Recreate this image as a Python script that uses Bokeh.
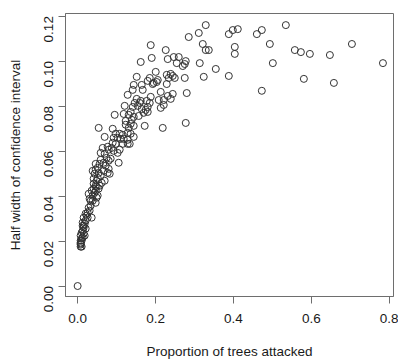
import math
from bokeh.plotting import figure
from bokeh.models import FixedTicker, PrintfTickFormatter, Range1d
from bokeh.embed import file_html
from bokeh.resources import INLINE

# Proportion of trees attacked
prop_attacked = [
    .329, .3111, .2853, .3213, .329, .3368, .3136, .3239, .3548, .3882,
    .3985, .4113, .3882, .4602, .473, .5347, .4936, .4036, .4036, .473,
    .5013, .5578, .5733, .5964, .6478, .7044, .7841, .581, .6581,
    .1877, .2262, .162, .1902, .2314, .2468, .2596, .2545, .2776, .2751,
    .2699, .2005, .1517, .1851, .18, .2057, .2031, .1954, .2288, .2391,
    .2442, .2339, .2494, .2751, .144, .1645, .1414, .1671, .1928, .2288,
    .2134, .2802, .2442, .2314, .1285, .1517, .162, .1465, .1594, .1877,
    .1851, .1774, .2082, .2211, .2391, .2211, .2134, .1208, .1542, .1645,
    .18, .1748, .0951, .1183, .1311, .144, .1568, .1697, .18, .1388,
    .054, .09, .1234, .1311, .144, .1722, .2185, .2776, .1414, .1362,
    .1234, .1362, .0694, .0977, .108, .1157, .1285, .1362, .144, .0925,
    .1028, .1105, .1183, .1285, .09, .0977, .1157, .1285, .1337, .0643,
    .0771, .0874, .108, .0797, .0925, .1028, .0591, .0694, .0746, .0848,
    .0797, .0591, .0668, .0566, .1054, .0463, .0514, .0463, .072, .0797,
    .0668, .0771, .0823, .0386, .0437, .054, .0591, .0514, .0694, .0411,
    .0488, .0411, .0463, .0411, .0283, .0514, .0463, .0488, .0386, .0463,
    .0334, .0283, .0308, .0257, .0206, .036, .0154, .0257, .0206, .0129,
    .0154, .0206, .0154, .0129, .0154, .0077, .018, .0129, .0077, .0077,
    .0077, .0103, .0077, 0.0,
    .0437, .0386, .054, .0334, .0231, .018, .0129, .0103, .0103, .0077,
    .0103, .0566, .0617, .0488, .036, .0308,
]

# Half width of confidence interval
half_width = [
    .116, .1125, .1107, .1076, .1049, .1049, .0991, .093, .0965, .112,
    .1138, .1142, .0934, .112, .1138, .116, .1076, .1063, .1032, .0868,
    .0991, .1049, .104, .1032, .1027, .1076, .0991, .0921, .0903,
    .1071, .1049, .0996, .1014, .1009, .1018, .1018, .0991, .1, .0987,
    .0978, .0952, .093, .0925, .0912, .0916, .0907, .0903, .0939, .0943,
    .0934, .0925, .0925, .0925, .0894, .0894, .0872, .0872, .0898, .0898,
    .0863, .0858, .0854, .0845, .085, .0832, .0823, .0814, .0814, .0841,
    .0814, .0823, .0827, .0827, .0832, .0805, .0792, .0801, .0801, .0787,
    .0796, .0783, .0761, .0765, .0761, .0752, .0756, .077, .0774, .0739,
    .0703, .0699, .0717, .0703, .0712, .0712, .0703, .0725, .0796, .0774,
    .0734, .0721, .0663, .0677, .0677, .0672, .0681, .0677, .0663, .0659,
    .0659, .0654, .0654, .065, .0637, .0632, .0632, .0632, .0632, .0614,
    .0619, .0614, .0606, .0606, .0601, .0592, .0592, .0588, .057, .0566,
    .0557, .0561, .0548, .0543, .0548, .0543, .0526, .0517, .0535, .0521,
    .0512, .0503, .0499, .0512, .0499, .0503, .049, .0481, .0468, .0477,
    .0468, .0455, .0446, .0433, .041, .0402, .0424, .0393, .0379, .037,
    .0357, .0348, .0335, .0326, .0322, .0304, .0304, .0304, .0291, .0282,
    .0268, .0255, .026, .0246, .0233, .0224, .0224, .0215, .0202, .0193,
    .0189, .0175, .0175, 0.0,
    .0415, .0402, .0433, .0379, .0313, .0277, .0268, .0237, .0211, .0184,
    .0202, .0446, .0459, .0441, .0424, .0388,
]

x_ticks = [0.0, 0.2, 0.4, 0.6, 0.8]
y_ticks = [0.00, 0.02, 0.04, 0.06, 0.08, 0.10, 0.12]

FONT = "Liberation Sans"
TXT = "#1a1a1a"
LINE = "#6e6e6e"

p = figure(
    frame_width=328, frame_height=283,
    min_border_left=65, min_border_right=5, min_border_top=13, min_border_bottom=62,
    x_range=Range1d(-0.0312, 0.8112), y_range=Range1d(-0.00466, 0.12116),
    output_backend="svg", toolbar_location=None,
)

p.scatter(prop_attacked, half_width, size=7, marker="circle",
          fill_color=None, line_color="#333333", line_width=1)

p.xgrid.visible = False
p.ygrid.visible = False
p.outline_line_color = LINE
p.outline_line_width = 1
p.outline_line_alpha = 1

for ax in (p.xaxis[0], p.yaxis[0]):
    ax.axis_line_color = LINE
    ax.major_tick_line_color = LINE
    ax.minor_tick_line_color = None
    ax.major_tick_out = 7
    ax.major_tick_in = 0
    ax.major_label_text_font = FONT
    ax.major_label_text_font_size = "13.5px"
    ax.major_label_text_color = TXT
    ax.axis_label_text_font = FONT
    ax.axis_label_text_font_size = "13.5px"
    ax.axis_label_text_font_style = "normal"
    ax.axis_label_text_color = TXT

p.xaxis.ticker = FixedTicker(ticks=x_ticks)
p.xaxis.formatter = PrintfTickFormatter(format="%.1f")
p.xaxis.axis_label = "Proportion of trees attacked"
p.xaxis.major_label_standoff = 10
p.xaxis.axis_label_standoff = 18

p.yaxis.ticker = FixedTicker(ticks=y_ticks)
p.yaxis.formatter = PrintfTickFormatter(format="%.2f")
p.yaxis.axis_label = "Half width of confidence interval"
p.yaxis.major_label_orientation = math.pi / 2
p.yaxis.major_label_standoff = 10
p.yaxis.axis_label_standoff = 14

open("out.html", "w").write(file_html(p, INLINE))
